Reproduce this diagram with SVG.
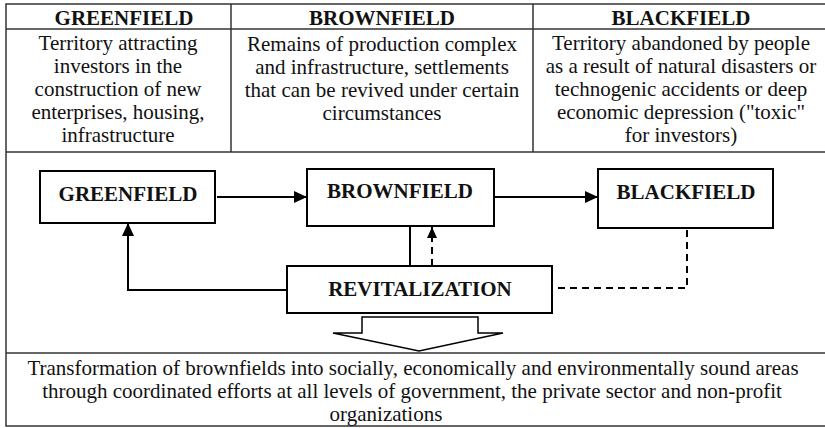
<svg xmlns="http://www.w3.org/2000/svg" width="825" height="428" viewBox="0 0 825 428">
<style>
  .grid { stroke: #333; stroke-width: 1.5; fill: none; }
  .box { fill: #fff; stroke: #000; stroke-width: 2; }
  .hdr { font-family: "Liberation Serif", "Times New Roman", serif; font-size: 21px; font-weight: bold; text-anchor: middle; fill: #111; }
  .txt { font-family: "Liberation Serif", "Times New Roman", serif; font-size: 21px; text-anchor: middle; fill: #111; }
  .lbl { font-family: "Liberation Serif", "Times New Roman", serif; font-size: 21px; font-weight: bold; text-anchor: middle; fill: #111; }
  .conn { stroke: #000; stroke-width: 2; fill: none; }
  .dash { stroke: #000; stroke-width: 2; fill: none; stroke-dasharray: 7 5; }
</style>
<defs>
  <marker id="ah" markerWidth="14" markerHeight="12" refX="13" refY="6" orient="auto" markerUnits="userSpaceOnUse">
    <path d="M0,0 L13,6 L0,12 Z" fill="#000"/>
  </marker>
  <marker id="ahs" markerWidth="12" markerHeight="10" refX="11" refY="5" orient="auto" markerUnits="userSpaceOnUse">
    <path d="M0,0 L11,5 L0,10 Z" fill="#000"/>
  </marker>
</defs>
<rect width="825" height="428" fill="#fff"/>

<g id="table">
  <rect class="grid" x="6" y="4" width="822" height="422"/>
  <line class="grid" x1="6" y1="29" x2="828" y2="29"/>
  <line class="grid" x1="6" y1="152" x2="828" y2="152"/>
  <line class="grid" x1="6" y1="353" x2="828" y2="353"/>
  <line class="grid" x1="231" y1="4" x2="231" y2="152"/>
  <line class="grid" x1="533" y1="4" x2="533" y2="152"/>
</g>

<g id="col-greenfield">
  <text class="hdr" x="124" y="25">GREENFIELD</text>
  <text class="txt" x="118" y="50">Territory attracting</text>
  <text class="txt" x="118" y="73">investors in the</text>
  <text class="txt" x="118" y="96">construction of new</text>
  <text class="txt" x="118" y="119">enterprises, housing,</text>
  <text class="txt" x="118" y="142">infrastructure</text>
</g>
<g id="col-brownfield">
  <text class="hdr" x="382" y="25">BROWNFIELD</text>
  <text class="txt" x="382" y="51">Remains of production complex</text>
  <text class="txt" x="382" y="74">and infrastructure, settlements</text>
  <text class="txt" x="382" y="97">that can be revived under certain</text>
  <text class="txt" x="382" y="120">circumstances</text>
</g>
<g id="col-blackfield">
  <text class="hdr" x="681" y="25">BLACKFIELD</text>
  <text class="txt" x="681" y="50">Territory abandoned by people</text>
  <text class="txt" x="681" y="73">as a result of natural disasters or</text>
  <text class="txt" x="681" y="96">technogenic accidents or deep</text>
  <text class="txt" x="681" y="119">economic depression ("toxic"</text>
  <text class="txt" x="681" y="142">for investors)</text>
</g>

<g id="connectors">
  <line class="conn" x1="217" y1="197" x2="307" y2="197" marker-end="url(#ah)"/>
  <line class="conn" x1="495" y1="197" x2="598" y2="197" marker-end="url(#ah)"/>
  <polyline class="conn" points="287,290 128,290 128,223" marker-end="url(#ah)"/>
  <line class="conn" x1="410" y1="226" x2="410" y2="266"/>
  <line class="dash" x1="432" y1="266" x2="432" y2="227" marker-end="url(#ahs)"/>
  <polyline class="dash" points="558,288 687,288 687,229"/>
</g>

<g id="node-greenfield">
  <rect class="box" x="40" y="171" width="175" height="52"/>
  <text class="lbl" x="128" y="201">GREENFIELD</text>
</g>
<g id="node-brownfield">
  <rect class="box" x="307" y="169" width="187" height="57"/>
  <text class="lbl" x="400" y="198">BROWNFIELD</text>
</g>
<g id="node-blackfield">
  <rect class="box" x="598" y="169" width="175" height="59"/>
  <text class="lbl" x="686" y="199">BLACKFIELD</text>
</g>
<g id="node-revitalization">
  <rect class="box" x="287" y="266" width="265" height="47"/>
  <text class="lbl" x="420" y="296">REVITALIZATION</text>
</g>

<g id="big-arrow">
  <path d="M362,317 L478,317 L478,333 L503,333 L419,351 L333,333 L362,333 Z" fill="#fff" stroke="#000" stroke-width="1.5" stroke-linejoin="miter"/>
</g>

<g id="definition">
  <text class="txt" x="413" y="375">Transformation of brownfields into socially, economically and environmentally sound areas</text>
  <text class="txt" x="412" y="398">through coordinated efforts at all levels of government, the private sector and non-profit</text>
  <text class="txt" x="386" y="421">organizations</text>
</g>
</svg>
